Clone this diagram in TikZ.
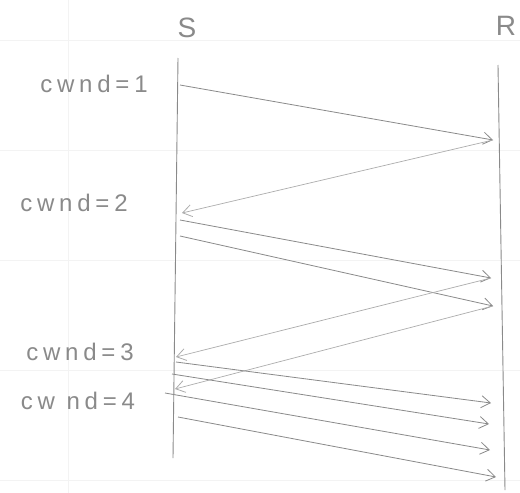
\documentclass[tikz,border=0pt]{standalone}
\usepackage{fontspec}
\setmainfont{Liberation Sans}
\usetikzlibrary{arrows.meta}
\definecolor{pencil}{HTML}{8A8A8A}
\definecolor{paperline}{HTML}{F3F3F3}
\tikzset{
  lifeline/.style={draw=pencil, line width=0.9pt},
  msg/.style={draw=pencil, line width=0.8pt, -{Straight Barb[length=9pt, width=12pt, line width=0.8pt]}},
  ack/.style={draw=pencil!70, line width=0.7pt, -{Straight Barb[length=9pt, width=12pt, line width=0.8pt]}},
  hand/.style={text=pencil, font=\fontsize{24}{26}\selectfont\addfontfeatures{LetterSpace=20}, inner sep=0pt},
  head/.style={text=pencil, font=\fontsize{28}{30}\selectfont, inner sep=0pt},
}
\begin{document}
\begin{tikzpicture}[x=1pt, y=-1pt]
  \useasboundingbox (0,0) rectangle (520,493);
  \fill[white] (0,0) rectangle (520,493);
  % faint ruling of the notebook page
  \foreach \yy in {40,150,260,370,480} \draw[paperline, line width=0.6pt] (0,\yy) -- (520,\yy);
  \draw[paperline, line width=0.6pt] (68,0) -- (68,493);

  % column headings
  \node[head] (S) at (187,28) {S};
  \node[head] (R) at (506,26) {R};

  % lifelines
  \coordinate (St) at (178,58);  \coordinate (Sb) at (173,458);
  \coordinate (Rt) at (498,65);  \coordinate (Rb) at (505,490);
  \draw[lifeline] (St) -- (Sb);
  \draw[lifeline] (Rt) -- (Rb);

  % window labels
  \node[hand] (c1) at (94,84)  {cwnd=1};
  \node[hand] (c2) at (74,203) {cwnd=2};
  \node[hand] (c3) at (80,352) {cwnd=3};
  \node[hand] (c4) at (78,401) {cw nd=4};

  % send / receive points
  \coordinate (s1) at (180,85);   \coordinate (r1) at (493,140);
  \coordinate (a1) at (182,213);
  \coordinate (s2) at (180,220);  \coordinate (r2) at (491,278);
  \coordinate (s3) at (180,236);  \coordinate (r3) at (493,306);
  \coordinate (a2) at (176,357);  \coordinate (a3) at (175,389);
  \coordinate (s4) at (176,362);  \coordinate (r4) at (491,403);
  \coordinate (s5) at (172,374);  \coordinate (r5) at (489,424);
  \coordinate (s6) at (165,393);  \coordinate (r6) at (490,450);
  \coordinate (s7) at (178,417);  \coordinate (r7) at (496,477);

  % round 1
  \draw[msg] (s1) -- (r1);
  \draw[ack] (r1) -- (a1);
  % round 2
  \draw[msg] (s2) -- (r2);
  \draw[msg] (s3) -- (r3);
  \draw[ack] (r2) -- (a2);
  \draw[ack] (r3) -- (a3);
  % round 3
  \draw[msg] (s4) -- (r4);
  \draw[msg] (s5) -- (r5);
  \draw[msg] (s6) -- (r6);
  \draw[msg] (s7) -- (r7);
\end{tikzpicture}
\end{document}
